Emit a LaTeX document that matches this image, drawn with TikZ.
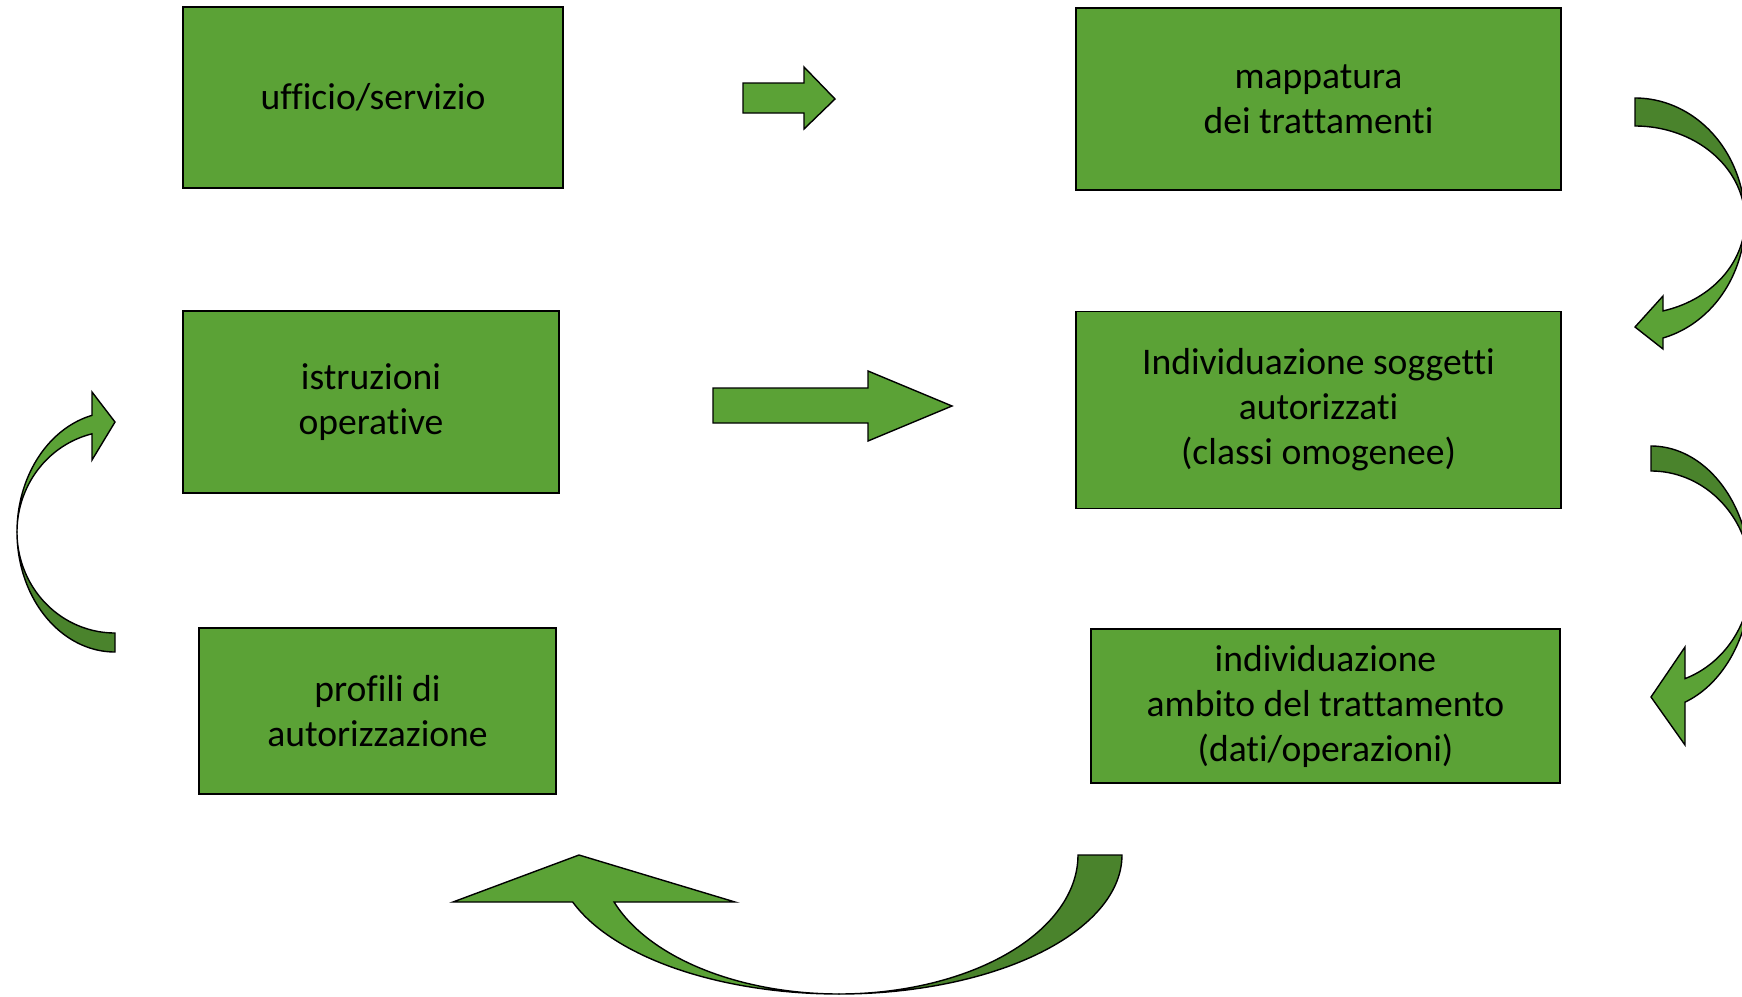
\documentclass[tikz,border=0pt]{standalone}
\usepackage{fontspec}
\setmainfont{Carlito}[Ligatures=NoCommon]
\definecolor{leafgreen}{HTML}{5BA236}
\definecolor{backgreen}{HTML}{4A832C}
\tikzset{
  box/.style={draw=black, line width=1.6pt, fill=leafgreen, rectangle, inner sep=0pt,
    align=center, text=black, font=\fontsize{37.6}{45}\selectfont},
  blockarrow/.style={draw=black, line width=1.4pt, fill=leafgreen, line join=miter},
  backband/.style={draw=black, line width=1.4pt, fill=backgreen, line join=miter},
  arc pts/.style={domain=#1, samples=60, variable=\t}
}
\begin{document}
\begin{tikzpicture}[x=1pt, y=-1pt]
\useasboundingbox (0,0) rectangle (1742,996);
\clip (0,0) rectangle (1742,996);

% process boxes
\node[box, minimum width=380pt, minimum height=181pt] (uff)    at (373,97.5)    {ufficio/servizio};
\node[box, minimum width=485pt, minimum height=182pt] (map)    at (1318.5,99)   {mappatura\\dei trattamenti};
\node[box, minimum width=376pt, minimum height=182pt] (istr)   at (371,402)     {istruzioni\\operative};
\node[box, minimum width=485pt, minimum height=197pt] (sogg)   at (1318.5,410)  {Individuazione soggetti\\autorizzati\\(classi omogenee)};
\node[box, minimum width=357pt, minimum height=166pt] (prof)   at (377.5,711)   {profili di\\autorizzazione};
\node[box, minimum width=469pt, minimum height=154pt] (ambito) at (1325.5,706)  {individuazione\\ambito del trattamento\\(dati/operazioni)};

% straight block arrows
\filldraw[blockarrow] (743,83) -- (804,83) -- (804,67) -- (835,99) -- (804,129) -- (804,113) -- (743,113) -- cycle;
\filldraw[blockarrow] (713,388) -- (868,388) -- (868,371) -- (952,406) -- (868,441) -- (868,423) -- (713,423) -- cycle;

% curved arrow: mappatura -> soggetti
\filldraw[backband] plot[arc pts=-90:0] ({1635+110*cos(\t)},{220+122*sin(\t)})
  -- plot[arc pts=0:-90] ({1635+110*cos(\t)},{220+94*sin(\t)}) -- cycle;
\filldraw[blockarrow] plot[arc pts=0:75.25] ({1635+110*cos(\t)},{220+122*sin(\t)})
  -- (1663,349) -- (1635,327) -- (1663,296)
  -- plot[arc pts=75.25:0] ({1635+110*cos(\t)},{220+94*sin(\t)}) -- cycle;

% curved arrow: soggetti -> ambito
\filldraw[backband] plot[arc pts=-90:0] ({1651+100*cos(\t)},{578+132*sin(\t)})
  -- plot[arc pts=0:-90] ({1651+100*cos(\t)},{578+107*sin(\t)}) -- cycle;
\filldraw[blockarrow] plot[arc pts=0:70.12] ({1651+100*cos(\t)},{578+132*sin(\t)})
  -- (1685,745) -- (1651,697) -- (1685,647)
  -- plot[arc pts=70.12:0] ({1651+100*cos(\t)},{578+107*sin(\t)}) -- cycle;

% curved arrow: ambito -> profili
\filldraw[backband] plot[arc pts=0:90] ({839+283*cos(\t)},{855+139*sin(\t)})
  -- plot[arc pts=90:0] ({839+239*cos(\t)},{855+139*sin(\t)}) -- cycle;
\filldraw[blockarrow] plot[arc pts=90:160.24] ({839+283*cos(\t)},{855+139*sin(\t)})
  -- (453,902) -- (579,855) -- (735,902)
  -- plot[arc pts=160.24:90] ({839+239*cos(\t)},{855+139*sin(\t)}) -- cycle;

% curved arrow: profili -> istruzioni
\filldraw[backband] plot[arc pts=90:180] ({115+98*cos(\t)},{532+120*sin(\t)})
  -- plot[arc pts=180:90] ({115+98*cos(\t)},{532+101*sin(\t)}) -- cycle;
\filldraw[blockarrow] plot[arc pts=180:256.43] ({115+98*cos(\t)},{532+120*sin(\t)})
  -- (92,392) -- (115,422) -- (92,460)
  -- plot[arc pts=256.43:180] ({115+98*cos(\t)},{532+101*sin(\t)}) -- cycle;
\end{tikzpicture}
\end{document}
